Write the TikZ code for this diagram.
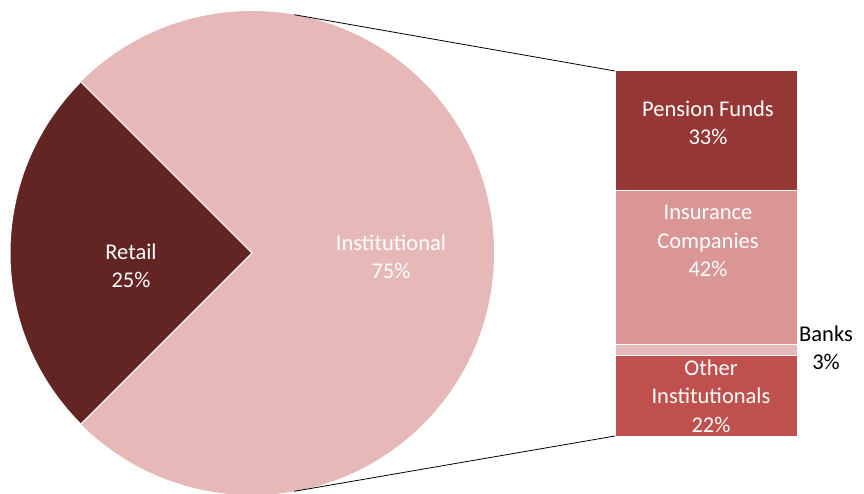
\documentclass[tikz,border=0pt]{standalone}
\usepackage{fontspec}
\setmainfont{Carlito}
\usetikzlibrary{calc}
\definecolor{retailc}{HTML}{632523}
\definecolor{instc}{HTML}{E6B9B8}
\definecolor{pensc}{HTML}{953735}
\definecolor{insc}{HTML}{D99694}
\definecolor{bankc}{HTML}{E6B9B8}
\definecolor{otherc}{HTML}{C0504D}
\tikzset{
  lbl/.style={text=white, align=center, font=\fontsize{22.5}{28.5}\selectfont},
  seg/.style={draw=white, line width=1pt, minimum width=182pt, anchor=north west, inner sep=0pt, outer sep=0pt},
  slice/.style={draw=white, line width=1pt},
  conn/.style={draw=black, line width=0.8pt}
}
\begin{document}
\begin{tikzpicture}[x=1pt,y=-1pt]
\useasboundingbox (0,0) rectangle (864,494);
\coordinate (c) at (252,253);
% pie
\fill[instc] (c) -- ++(225:242) arc[start angle=225, end angle=495, radius=242] -- cycle;
\filldraw[retailc, slice] (c) -- ++(135:242) arc[start angle=135, end angle=225, radius=242] -- cycle;
\draw[white, line width=1pt] (c) -- ++(135:242) (c) -- ++(225:242);
% bar
\node[seg, fill=pensc, minimum height=120pt] (pension) at (615,71) {};
\node[seg, fill=insc, minimum height=153pt] (insurance) at (615,191) {};
\node[seg, fill=bankc, minimum height=11pt] (banks) at (615,344) {};
\node[seg, fill=otherc, minimum height=81pt] (other) at (615,355) {};
% connectors
\coordinate (ptop) at ($(c)+(-80:242)$);
\coordinate (pbot) at ($(c)+(80:242)$);
\draw[conn] (ptop) -- (pension.north west);
\draw[conn] (pbot) -- (other.south west);
% labels
\node[lbl] (lretail) at (131,266) {Retail\\25\%};
\node[lbl] (linst) at (391,257) {Institutional\\75\%};
\node[lbl] (lpens) at (708,123) {Pension Funds\\33\%};
\node[lbl] (lins) at (708,241) {Insurance\\Companies\\42\%};
\node[lbl] (lother) at (711,396) {Other\\Institutionals\\22\%};
\node[lbl, text=black] (lbanks) at (826,348) {Banks\\3\%};
\end{tikzpicture}
\end{document}
